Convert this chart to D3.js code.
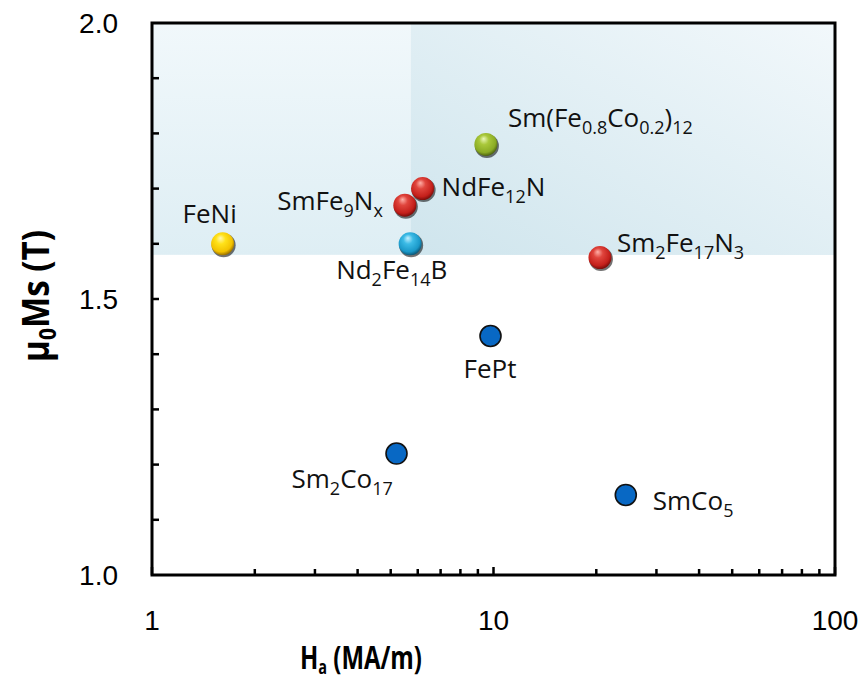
<!DOCTYPE html>
<html><head><meta charset="utf-8">
<script src="https://cdn.jsdelivr.net/npm/d3@7"></script>
<style>body{margin:0;background:#fff}svg{display:block}</style>
</head><body>
<svg id="c" width="866" height="683"></svg>
<script>
// ---- data ----
const materials = ["FeNi","SmFe_9N_x","NdFe_12N","Nd_2Fe_14B","Sm(Fe_0.8Co_0.2)_12","Sm_2Fe_17N_3","FePt","Sm_2Co_17","SmCo_5"];
const anisotropyField = [1.61, 5.5, 6.2, 5.7, 9.5, 20.5, 9.8, 5.2, 24.4];   // Ha (MA/m)
const magnetization   = [1.60, 1.67, 1.70, 1.60, 1.78, 1.575, 1.433, 1.22, 1.145]; // mu0Ms (T)
const markerType      = ["yellow","red","red","cyan","green","red","blue","blue","blue"];
const xTickValues = [1, 10, 100];
const xTickLabels = ["1", "10", "100"];
const yTickValues = [1.0, 1.5, 2.0];
const yTickLabels = ["1.0", "1.5", "2.0"];
const targetMs = 1.58;   // shaded region lower bound
const targetHa = 5.73;   // darker region left bound

// ---- layout ----
const labelLayout = [
  {dx:-13, dy:-21, a:"middle"},
  {dx:-22, dy:5,  a:"end"},
  {dx:19,  dy:7,  a:"start"},
  {dx:-74, dy:35, a:"start"},
  {dx:22,  dy:-17,a:"start"},
  {dx:17,  dy:-6, a:"start"},
  {dx:-27, dy:42, a:"start"},
  {dx:-105,dy:34, a:"start"},
  {dx:27,  dy:15, a:"start"}
];
const L = 152, R = 835, T = 23, B = 575;
const svg = d3.select("#c");
const x = d3.scaleLog().domain([1,100]).range([L,R]);
const y = d3.scaleLinear().domain([1,2]).range([B,T]);

const defs = svg.append("defs");
const g1 = defs.append("linearGradient").attr("id","band").attr("x1",0).attr("y1",0).attr("x2",0).attr("y2",1);
g1.append("stop").attr("offset",0).attr("stop-color","#f1f8fb");
g1.append("stop").attr("offset",1).attr("stop-color","#deeef4");
const g2 = defs.append("linearGradient").attr("id","dark").attr("x1",0).attr("y1",1).attr("x2",1).attr("y2",0);
g2.append("stop").attr("offset",0).attr("stop-color","#cfe5ed");
g2.append("stop").attr("offset",1).attr("stop-color","#f2f8fb");

const sphereColors = {
  red:["#ffb0a8","#e0453d","#c4201b","#7a0d0a"],
  yellow:["#fff7b0","#ffe21a","#f2c200","#9a7000"],
  cyan:["#c5f0ff","#3cbbe6","#1a98c8","#0d5a7a"],
  green:["#eaf7b8","#a9c83a","#8aab24","#4d6310"]
};
Object.entries(sphereColors).forEach(([k,c])=>{
  const rg = defs.append("radialGradient").attr("id","sp-"+k).attr("cx",0.45).attr("cy",0.4).attr("r",0.6).attr("fx",0.4).attr("fy",0.25);
  rg.append("stop").attr("offset",0).attr("stop-color",c[0]);
  rg.append("stop").attr("offset",0.35).attr("stop-color",c[1]);
  rg.append("stop").attr("offset",0.8).attr("stop-color",c[2]);
  rg.append("stop").attr("offset",1).attr("stop-color",c[3]);
});

// shaded regions
svg.append("rect").attr("x",x(1)).attr("y",y(2)).attr("width",x(100)-x(1)).attr("height",y(targetMs)-y(2)).attr("fill","url(#band)");
svg.append("rect").attr("x",x(targetHa)).attr("y",y(2)).attr("width",x(100)-x(targetHa)).attr("height",y(targetMs)-y(2)).attr("fill","url(#dark)");

// ticks (inward)
const tickG = svg.append("g").attr("stroke","#000").attr("stroke-width",2.5);
const xMinor = [];
[1,10].forEach(d=>{for(let i=2;i<=9;i++) xMinor.push(d*i);});
tickG.selectAll(".xm").data(xMinor).join("line")
  .attr("x1",d=>x(d)).attr("x2",d=>x(d)).attr("y1",B).attr("y2",B-6);
tickG.selectAll(".xM").data(xTickValues).join("line")
  .attr("x1",d=>x(d)).attr("x2",d=>x(d)).attr("y1",B).attr("y2",B-8);
const yMinor = d3.range(1.1,2.0,0.1);
tickG.selectAll(".ym").data(yMinor).join("line")
  .attr("x1",L).attr("x2",L+7).attr("y1",d=>y(d)).attr("y2",d=>y(d));

// frame
svg.append("rect").attr("x",L).attr("y",T).attr("width",R-L).attr("height",B-T)
  .attr("fill","none").attr("stroke","#000").attr("stroke-width",3);

// tick labels
const tf = "'Liberation Sans', Arial, sans-serif";
svg.selectAll(".xl").data(xTickValues).join("text")
  .attr("x",d=>x(d)).attr("y",630).attr("text-anchor","middle")
  .attr("font-family",tf).attr("font-size",28).text((d,i)=>xTickLabels[i]);
svg.selectAll(".yl").data(yTickValues).join("text")
  .attr("x",118).attr("y",d=>y(d)+10).attr("text-anchor","end")
  .attr("font-family",tf).attr("font-size",28).text((d,i)=>yTickLabels[i]);

// axis titles (condensed by horizontal scaling to fit the reference widths)
const af = "'Open Sans', sans-serif";
function title(main, sub, rest, size, subSize, subDy, targetLen, tx, ty, rot) {
  const g = svg.append("g");
  const t = g.append("text").attr("x",0).attr("y",0)
    .attr("font-family",af).attr("font-weight","bold").attr("font-size",size);
  t.append("tspan").text(main);
  t.append("tspan").attr("font-size",subSize).attr("dy",subDy).text(sub);
  t.append("tspan").attr("dy",-subDy).text(rest);
  const w = t.node().getBBox().width;
  const s = targetLen / w;
  g.attr("transform",`translate(${tx},${ty}) rotate(${rot}) scale(${s},1)`);
}
title("H","a"," (MA/m)",33,20,5,122,300,669,0);
title("μ","0","Ms (T)",38,24,7,132,49,362,-90);

// points
const pts = materials.map((m,i)=>({m, h:anisotropyField[i], ms:magnetization[i], t:markerType[i], lay:labelLayout[i]}));
const ptG = svg.append("g");
pts.forEach(p=>{
  const cx = x(p.h), cy = y(p.ms);
  if (p.t === "blue") {
    ptG.append("circle").attr("cx",cx).attr("cy",cy).attr("r",10.5)
      .attr("fill","#0868c4").attr("stroke","#111").attr("stroke-width",1.6);
  } else {
    ptG.append("circle").attr("cx",cx+1).attr("cy",cy+1.5).attr("r",12).attr("fill","#000").attr("opacity",0.55);
    ptG.append("circle").attr("cx",cx).attr("cy",cy).attr("r",11.5).attr("fill","url(#sp-"+p.t+")");
  }
});

// labels with subscripts
const lf = "'Open Sans', sans-serif";
pts.forEach(p=>{
  const cx = x(p.h), cy = y(p.ms);
  const t = svg.append("text").attr("x",cx+p.lay.dx).attr("y",cy+p.lay.dy)
    .attr("text-anchor",p.lay.a).attr("font-family",lf).attr("font-size",26).attr("fill","#111");
  const parts = p.m.split("_");
  let shifted = false;
  parts.forEach((part,j)=>{
    if (j===0) { t.append("tspan").text(part); return; }
    const mm = part.match(/^([0-9.x]+)(.*)$/);
    t.append("tspan").attr("font-size",18).attr("dy",shifted?0:7).text(mm[1]);
    shifted = true;
    if (mm[2]) { t.append("tspan").attr("dy",-7).text(mm[2]); shifted=false; }
  });
});
</script>
</body></html>
